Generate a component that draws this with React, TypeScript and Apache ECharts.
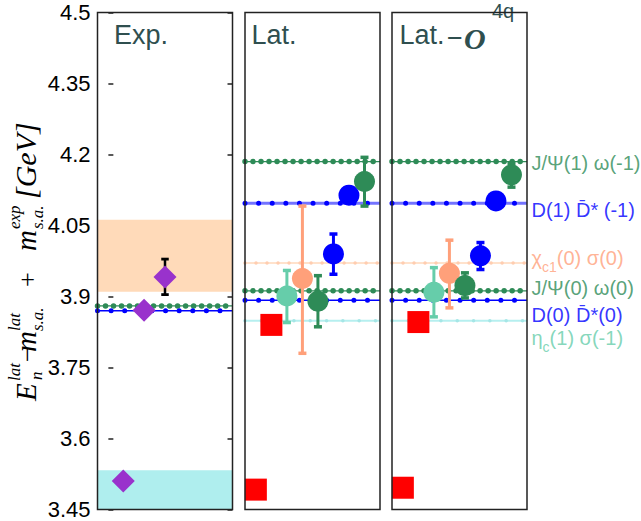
import React, { useEffect, useRef } from 'react';
import * as echarts from 'echarts';

// ---------- data ----------
const yTickMin = 3.45;
const yTickMax = 4.5;
const yTickStep = 0.15;

const panelTitles = ['Exp.', 'Lat.', 'Lat.'];

// Experiment panel
const expX = [0.96, 2.3, 3.65];
const expY = [3.51, 3.871, 3.941];
const expErrLow: (number | null)[] = [null, null, 3.904];
const expErrHigh: (number | null)[] = [null, null, 3.979];
const expBandPeach = [3.91, 4.062];
const expBandCyan = [3.45, 3.533];
const expThr = [3.88, 3.87];

// Lattice thresholds (shared by both lattice panels)
const thrNames = [
  'J/Ψ(1) ω(-1)',
  'D(1) D̄* (-1)',
  '{a|χ}{s|c1}{a|(0) σ(0)}',
  'J/Ψ(0) ω(0)',
  'D(0) D̄*(0)',
  '{a|η}{s|c}{a|(1) σ(-1)}',
];
const latThr = [4.185, 4.097, 3.971, 3.912, 3.892, 3.849];

// Lattice levels
const pointX = [0, 1, 2, 3, 4, 5, 6, 7];
const latY = [3.492, 3.84, 3.901, 3.938, 3.89, 3.99, 4.114, 4.143];
const latLow: (number | null)[] = [null, null, 3.845, 3.78, 3.836, 3.947, null, 4.091];
const latHigh: (number | null)[] = [null, null, 3.955, 4.091, 3.944, 4.032, null, 4.194];
const lat4qY = [3.496, 3.846, 3.909, 3.949, 3.923, 3.986, 4.102, 4.157];
const lat4qLow: (number | null)[] = [null, null, 3.857, 3.876, 3.897, 3.957, null, 4.131];
const lat4qHigh: (number | null)[] = [null, null, 3.961, 4.019, 3.95, 4.014, null, 4.181];

// ---------- styles ----------
const X_MIN = -0.7;
const X_MAX = 8.0;
const GRID_LEFT = [97.5, 245, 392];
const GRID_TOP = 12.5;
const GRID_W = 135;
const GRID_H = 497;
const sans = '"Liberation Sans", Arial, Helvetica, sans-serif';
const serif = '"Liberation Serif", "Times New Roman", serif';
const titleColor = '#2f4f4f';

const pointColor = ['#ff0000', '#ff0000', '#66cdaa', '#ffa07a', '#2e8b57', '#0000ff', '#0000ff', '#2e8b57'];
const pointSymbol = ['rect', 'rect', 'circle', 'circle', 'circle', 'circle', 'circle', 'circle'];
const pointSize = [22, 22, 21, 21, 21, 21, 21, 21];

const thrStyles: Record<string, any> = {
  green: { line: { color: '#2e8b57', width: 1.2 }, dot: { color: '#2e8b57', width: 5.5, gap: 8 } },
  blueWide: { line: { color: 'rgba(0,0,255,0.55)', width: 3 }, dot: { color: '#0000ff', width: 5, gap: 13.6 } },
  peach: { line: { color: '#ffe2cc', width: 2 }, dot: { color: '#ffcdb0', width: 3.5, gap: 11 } },
  blue: { line: { color: '#0000ff', width: 1.5 }, dot: { color: '#0000ff', width: 5, gap: 13.6 } },
  cyan: { line: { color: '#b6efef', width: 2 }, dot: { color: '#a5e6e6', width: 3.5, gap: 16.3 } },
};
const latThrKinds = ['green', 'blueWide', 'peach', 'green', 'blue', 'cyan'];
const expThrKinds = ['green', 'blue'];
const thrLabelColor = ['#2e8b57', '#0000ff', '#ffa07a', '#2e8b57', '#0000ff', '#66cdaa'];
const thrLabelDy = [1, 7, -5.7, -3, 14.5, 16];

function thresholdSeries(xIdx: number, yIdx: number, value: number, kind: string) {
  const st = thrStyles[kind];
  const data = [[X_MIN, value], [X_MAX, value]];
  return [
    {
      type: 'line', xAxisIndex: xIdx, yAxisIndex: yIdx, data, symbol: 'none', silent: true, z: 2,
      lineStyle: { color: st.line.color, width: st.line.width },
    },
    {
      type: 'line', xAxisIndex: xIdx, yAxisIndex: yIdx, data, symbol: 'none', silent: true, z: 2,
      lineStyle: { color: st.dot.color, width: st.dot.width, type: [0.01, st.dot.gap], cap: 'round' },
    },
  ];
}

function errorSeries(xIdx: number, yIdx: number, xs: number[], lo: (number | null)[], hi: (number | null)[], colors: string[], lw: number, capW: number, capH: number) {
  const data: number[][] = [];
  const cols: string[] = [];
  xs.forEach((x, i) => {
    const l = lo[i];
    const h = hi[i];
    if (l != null && h != null) {
      data.push([x, l, h]);
      cols.push(colors[i]);
    }
  });
  return {
    type: 'custom', xAxisIndex: xIdx, yAxisIndex: yIdx, data, z: 3, silent: true, clip: false,
    encode: { x: 0, y: [1, 2] },
    renderItem: (params: any, api: any) => {
      const x = api.value(0);
      const a = api.coord([x, api.value(1)]);
      const b = api.coord([x, api.value(2)]);
      const c = cols[params.dataIndex];
      return {
        type: 'group',
        children: [
          { type: 'line', shape: { x1: a[0], y1: a[1], x2: b[0], y2: b[1] }, style: { stroke: c, lineWidth: lw } },
          { type: 'rect', shape: { x: a[0] - capW / 2, y: a[1] - capH / 2, width: capW, height: capH }, style: { fill: c } },
          { type: 'rect', shape: { x: b[0] - capW / 2, y: b[1] - capH / 2, width: capW, height: capH }, style: { fill: c } },
        ],
      };
    },
  };
}

function pointSeries(xIdx: number, yIdx: number, ys: number[]) {
  return {
    type: 'scatter', xAxisIndex: xIdx, yAxisIndex: yIdx, z: 4, silent: true,
    data: ys.map((y, i) => ({
      value: [pointX[i], y],
      symbol: pointSymbol[i],
      symbolSize: pointSize[i],
      itemStyle: { color: pointColor[i], opacity: 1 },
    })),
  };
}

function rotText(text: string, startY: number, baselineX: number, fs: number, italic = true) {
  return {
    type: 'text', x: baselineX - 0.34 * fs, y: startY, rotation: Math.PI / 2, silent: true,
    style: { text, fill: '#000', font: `${italic ? 'italic ' : ''}${fs}px ${serif}`, align: 'left', verticalAlign: 'middle' },
  };
}

function plainText(text: string, x: number, baselineY: number, fs: number, font: string, color: string, extra = '') {
  return {
    type: 'text', x, y: baselineY - 0.34 * fs, silent: true,
    style: { text, fill: color, font: `${extra}${fs}px ${font}`, align: 'left', verticalAlign: 'middle' },
  };
}

function buildOption() {
  const yAxisBase = { type: 'value', min: yTickMin, max: yTickMax, interval: yTickStep, splitLine: { show: false } };
  const series: any[] = [];

  // Exp panel bands (markArea) attached to first exp threshold line
  const expLines: any[] = [];
  expThr.forEach((v, i) => expLines.push(...thresholdSeries(0, 0, v, expThrKinds[i])));
  expLines[0].markArea = {
    silent: true,
    z: 1,
    data: [
      [{ yAxis: expBandPeach[0], itemStyle: { color: '#ffdab9' } }, { yAxis: expBandPeach[1] }],
      [{ yAxis: expBandCyan[0], itemStyle: { color: '#afeeee' } }, { yAxis: expBandCyan[1] }],
    ],
  };
  series.push(...expLines);
  series.push(errorSeries(0, 0, expX, expErrLow, expErrHigh, ['#000', '#000', '#000'], 2.5, 7.5, 2.8));
  series.push({
    type: 'scatter', xAxisIndex: 0, yAxisIndex: 0, z: 4, silent: true,
    symbol: 'diamond', symbolSize: 23, itemStyle: { color: '#9932cc', opacity: 1 },
    data: expX.map((x, i) => [x, expY[i]]),
  });

  // Lattice panels
  const panels = [
    { x: 1, y: 2, ys: latY, lo: latLow, hi: latHigh },
    { x: 2, y: 3, ys: lat4qY, lo: lat4qLow, hi: lat4qHigh },
  ];
  panels.forEach((p) => {
    latThr.forEach((v, i) => series.push(...thresholdSeries(p.x, p.y, v, latThrKinds[i])));
    series.push(errorSeries(p.x, p.y, pointX, p.lo, p.hi, pointColor, 3, 8, 3.5));
    series.push(pointSeries(p.x, p.y, p.ys));
  });

  // right-hand threshold labels
  series.push({
    type: 'scatter', xAxisIndex: 2, yAxisIndex: 3, z: 5, silent: true, clip: false,
    symbol: 'circle', symbolSize: 0.01, itemStyle: { color: 'transparent' },
    data: latThr.map((v, i) => ({
      value: [X_MAX, v],
      label: {
        show: true, position: 'right', distance: 4.5, offset: [0, thrLabelDy[i]],
        formatter: () => thrNames[i],
        color: thrLabelColor[i], fontSize: 20, fontFamily: sans, lineHeight: 18,
        rich: {
          a: { fontSize: 20, fontFamily: sans, color: thrLabelColor[i], lineHeight: 18, verticalAlign: 'top' },
          s: { fontSize: 14, fontFamily: sans, color: thrLabelColor[i], lineHeight: 12, padding: [12, 0, 0, 0], verticalAlign: 'top' },
        },
      },
    })),
  });

  const graphic: any[] = [
    plainText(panelTitles[0], 114, 44.5, 27, sans, titleColor),
    plainText(panelTitles[1], 251.5, 44.5, 27, sans, titleColor),
    plainText(panelTitles[2], 399.5, 44.5, 27, sans, titleColor),
    plainText('−', 447, 47.5, 27, sans, titleColor),
    plainText('O', 464, 49, 30, serif, titleColor, 'italic bold '),
    plainText('4q', 492, 18, 20, sans, titleColor),
    // y axis title
    rotText('E', 401, 36, 29),
    rotText('n', 380, 42, 17),
    rotText('lat', 381, 20, 17),
    rotText('−', 362, 36, 26, false),
    rotText('m', 352, 36, 29),
    rotText('lat', 331, 20, 17),
    rotText('s.a.', 331, 43, 17),
    rotText('+', 287, 36, 26, false),
    rotText('m', 251, 36, 29),
    rotText('exp', 229, 20, 17),
    rotText('s.a.', 229, 43, 17),
    rotText('[GeV]', 199, 36, 30),
  ];

  return {
    animation: false,
    backgroundColor: '#fff',
    grid: GRID_LEFT.map((l) => ({
      left: l, top: GRID_TOP, width: GRID_W, height: GRID_H,
      show: true, borderColor: '#222', borderWidth: 1.5, backgroundColor: 'transparent', z: 10,
    })),
    xAxis: [0, 1, 2].map((g) => ({ type: 'value', gridIndex: g, min: X_MIN, max: X_MAX, show: false })),
    yAxis: [
      {
        ...yAxisBase, gridIndex: 0, position: 'left',
        axisLine: { show: false },
        axisTick: { show: true, inside: true, length: 5, lineStyle: { color: '#222', width: 1.5 } },
        axisLabel: {
          show: true, fontSize: 22, color: '#000', fontFamily: sans, margin: 7,
          showMinLabel: true, showMaxLabel: true,
          formatter: (v: number) => String(Number(v.toFixed(2))),
        },
      },
      {
        ...yAxisBase, gridIndex: 0, position: 'right',
        axisLine: { show: false },
        axisTick: { show: true, inside: true, length: 5, lineStyle: { color: '#222', width: 1.5 } },
        axisLabel: { show: false },
      },
      { ...yAxisBase, gridIndex: 1, show: false },
      { ...yAxisBase, gridIndex: 2, show: false },
    ],
    series,
    graphic,
  };
}

export default function App() {
  const ref = useRef<HTMLDivElement>(null);
  useEffect(() => {
    const chart = echarts.init(ref.current!, undefined, { renderer: 'svg' });
    chart.setOption(buildOption() as any);
    return () => chart.dispose();
  }, []);
  return (
    <div
      ref={ref}
      style={{ position: 'fixed', left: 0, top: 0, width: 641, height: 521, background: '#fff' }}
    />
  );
}
